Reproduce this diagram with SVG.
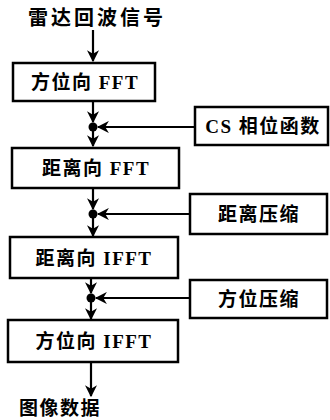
<svg xmlns="http://www.w3.org/2000/svg" width="330" height="420" viewBox="0 0 330 420">
<style>
.box{fill:#fff;stroke:#000;stroke-width:2.5}
.t{font-family:"Liberation Serif","Noto Sans CJK SC",serif;font-weight:bold;font-size:19px;letter-spacing:1.5px;fill:#000;text-anchor:middle;dominant-baseline:central}
.ttl{font-size:20px;letter-spacing:3px}
.ln{stroke:#000;stroke-width:2.2;fill:none}
</style>
<defs>
<marker id="ah" viewBox="0 0 10 10" refX="9" refY="5" markerWidth="5.5" markerHeight="5.5" orient="auto" markerUnits="strokeWidth">
<path d="M0,0 L10,5 L0,10 L3,5 Z" fill="#000"/>
</marker>
</defs>
<rect width="330" height="420" fill="#fff"/>
<g id="connectors">
<line class="ln" x1="93" y1="30" x2="93" y2="61" marker-end="url(#ah)"/>
<line class="ln" x1="93" y1="101" x2="93" y2="122" marker-end="url(#ah)"/>
<line class="ln" x1="93" y1="127" x2="93" y2="146" marker-end="url(#ah)"/>
<line class="ln" x1="195" y1="127" x2="98" y2="127" marker-end="url(#ah)"/>
<line class="ln" x1="93" y1="188" x2="93" y2="209" marker-end="url(#ah)"/>
<line class="ln" x1="93" y1="214" x2="93" y2="236" marker-end="url(#ah)"/>
<line class="ln" x1="190" y1="214" x2="98" y2="214" marker-end="url(#ah)"/>
<line class="ln" x1="91" y1="278" x2="91" y2="293" marker-end="url(#ah)"/>
<line class="ln" x1="91" y1="298" x2="91" y2="319" marker-end="url(#ah)"/>
<line class="ln" x1="190" y1="298" x2="96" y2="298" marker-end="url(#ah)"/>
<line class="ln" x1="91" y1="362" x2="91" y2="396" marker-end="url(#ah)"/>
<circle cx="93" cy="127" r="4.5" fill="#000"/>
<circle cx="93" cy="214" r="4.5" fill="#000"/>
<circle cx="91" cy="298" r="4.5" fill="#000"/>
</g>
<g id="input"><text class="t ttl" x="97" y="18">雷达回波信号</text></g>
<g id="n1"><rect class="box" x="13" y="63" width="142" height="38"/><text class="t" x="85" y="82">方位向 FFT</text></g>
<g id="cs"><rect class="box" x="195" y="107" width="133" height="38"/><text class="t" x="263" y="126">CS 相位函数</text></g>
<g id="n2"><rect class="box" x="12" y="148" width="167" height="40"/><text class="t" x="96" y="168">距离向 FFT</text></g>
<g id="rc"><rect class="box" x="190" y="194" width="137" height="40"/><text class="t" x="259" y="214">距离压缩</text></g>
<g id="n3"><rect class="box" x="10" y="237" width="168" height="41"/><text class="t" x="94" y="258">距离向 IFFT</text></g>
<g id="ac"><rect class="box" x="190" y="280" width="137" height="38"/><text class="t" x="259" y="299">方位压缩</text></g>
<g id="n4"><rect class="box" x="8" y="320" width="170" height="42"/><text class="t" x="94" y="341">方位向 IFFT</text></g>
<g id="output"><text class="t" x="60" y="408">图像数据</text></g>
</svg>
